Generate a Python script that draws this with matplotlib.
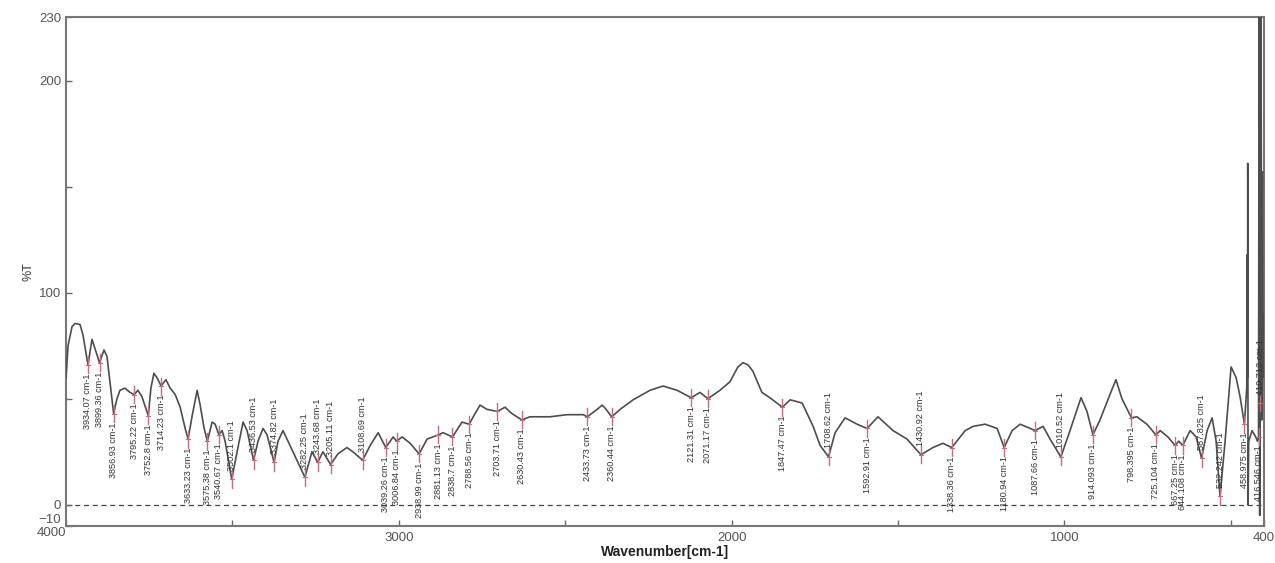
"""
IR transmission spectrum with labelled absorption peaks.
"""

import numpy as np
import matplotlib.pyplot as plt
from matplotlib.ticker import FixedLocator

# Spectrum trace (wavenumber in cm-1, %T)
wavenumber = [
    4000, 3994, 3982, 3973, 3958, 3949, 3934.07, 3922, 3899.36, 3886, 3877,
    3856.93, 3847, 3838, 3823, 3808, 3795.22, 3784, 3772, 3752.8, 3745, 3736,
    3727, 3714.23, 3700, 3687, 3672, 3657, 3642, 3633.23, 3621, 3606, 3597,
    3585, 3575.38, 3561, 3552, 3540.67, 3531, 3522, 3502.1, 3486, 3468, 3456,
    3436.53, 3423, 3408, 3396, 3374.82, 3363, 3348, 3327, 3303, 3282.25, 3261,
    3243.68, 3228, 3205.11, 3183, 3156, 3138, 3108.69, 3086, 3062, 3039.26,
    3017, 3006.84, 2990, 2966, 2938.99, 2915, 2881.13, 2867, 2838.7, 2810,
    2788.56, 2771, 2756, 2735, 2703.71, 2681, 2660, 2630.43, 2606, 2546, 2494,
    2446, 2433.73, 2404, 2389, 2377, 2360.44, 2335, 2296, 2245, 2206, 2164,
    2121.31, 2095, 2071.17, 2035, 2005, 1981, 1966, 1951, 1936, 1909, 1885,
    1847.47, 1824, 1788, 1755, 1734, 1708.62, 1689, 1659, 1623, 1592.91, 1560,
    1515, 1473, 1430.92, 1395, 1365, 1338.36, 1298, 1274, 1238, 1202, 1180.94,
    1157, 1133, 1087.66, 1064, 1043, 1010.52, 983, 950, 932, 914.093, 893, 863,
    845, 827, 798.395, 782, 752, 725.104, 712, 689, 667.25, 656, 644.108, 622,
    604, 587.825, 571, 556, 544, 532.242, 517, 499, 484, 472, 458.975, 452,
    450, 449.5, 449, 448, 446, 436, 425, 420, 416.546, 415, 413, 411, 410.712,
    409, 407, 405, 403, 401, 400,
]
transmittance = [
    60, 75, 84, 85.5, 85, 80, 66, 78, 67, 73, 70,
    43, 50, 54, 55, 53, 52, 54, 51, 42, 55, 62,
    60, 56, 59, 55, 52, 46, 36, 31, 42, 54, 47,
    36, 30, 39, 38, 33, 35, 30, 12, 25, 39, 35,
    21, 30, 36, 33, 20, 30, 35, 28, 20, 13, 25,
    20, 25, 19, 24, 27, 25, 21, 28, 34, 27,
    32, 30, 32, 29, 24, 31, 33, 34, 32, 39,
    38, 43, 47, 45, 44, 46, 43, 40, 41.5, 41.5, 42.5,
    42.5, 41.5, 45, 47, 45, 41.5, 45, 49.5, 54, 56, 54,
    50.5, 53, 50, 54, 58, 65, 67, 66, 63, 53, 50.5,
    46, 49.5, 48, 37, 28, 22.6, 34, 41, 38, 36, 41.5,
    35, 31, 23.6, 27, 29, 27, 35, 37, 38, 36, 27,
    35, 38, 35, 37, 31, 22.6, 35, 50.5, 44, 33, 40, 52,
    59, 50, 41, 41.5, 38, 33, 35, 32, 28, 30, 28, 35,
    32, 22, 35, 41, 30, 4, 30, 65, 60, 51, 38, 55,
    118, 60, 161, 0, 30, 35, 32, 30, 32, 230, -5, 158, 48,
    230, 40, 157, 60, 90, 88,
]

# Picked peaks and whether the label sits above the trace
peak_wn = [
    3934.07, 3899.36, 3856.93, 3795.22, 3752.8, 3714.23, 3633.23, 3575.38,
    3540.67, 3502.1, 3436.53, 3374.82, 3282.25, 3243.68, 3205.11, 3108.69,
    3039.26, 3006.84, 2938.99, 2881.13, 2838.7, 2788.56, 2703.71, 2630.43,
    2433.73, 2360.44, 2121.31, 2071.17, 1847.47, 1708.62, 1592.91, 1430.92,
    1338.36, 1180.94, 1087.66, 1010.52, 914.093, 798.395, 725.104, 667.25,
    644.108, 587.825, 532.242, 458.975, 416.546, 410.712,
]
labels_above = {3502.1, 3436.53, 3374.82, 3282.25, 3243.68, 3205.11, 3108.69,
                1708.62, 1430.92, 1010.52, 587.825, 532.242, 410.712}

x_ticks = [4000, 3000, 2000, 1000, 400]
y_ticks = [-10, 0, 100, 200, 230]

wn = np.array(wavenumber)
tr = np.array(transmittance)

plt.rcParams["font.family"] = ["Liberation Sans", "DejaVu Sans"]

fig = plt.figure(figsize=(12.75, 5.63), dpi=100)
ax = fig.add_axes([0.0518, 0.0657, 0.9396, 0.9041])

ax.plot(wn, tr, color="#4d4d4d", lw=1.2, zorder=3)
ax.axhline(0, color="#444444", lw=0.9, ls=(0, (4, 3)), zorder=1)

# peak markers and labels
order = np.argsort(wn)
for p in peak_wn:
    yp = np.interp(p, wn[order], tr[order])
    ax.plot([p, p], [yp - 4, yp + 4], color="#c07080", lw=1.0, zorder=4)
    ax.plot([p - 6, p + 6], [yp, yp], color="#c07080", lw=0.8, zorder=4)
    txt = f"{p:g} cm-1"
    if p in labels_above:
        ax.text(p, yp + 4, txt, rotation=90, ha="center", va="bottom",
                fontsize=6.6, color="#333333", zorder=5)
    else:
        ax.text(p, yp - 4, txt, rotation=90, ha="center", va="top",
                fontsize=6.6, color="#333333", zorder=5)

ax.set_xlim(4000, 400)
ax.set_ylim(-10, 230)

ax.xaxis.set_major_locator(FixedLocator(x_ticks))
ax.xaxis.set_minor_locator(FixedLocator([3500, 2500, 1500, 500]))
ax.yaxis.set_major_locator(FixedLocator(y_ticks))
ax.yaxis.set_minor_locator(FixedLocator([50, 150]))
ax.set_xticklabels([""] + [str(t) for t in x_ticks[1:]])
ax.tick_params(which="both", direction="in", length=4, width=1,
               color="#666666", labelcolor="#555555", labelsize=9.5)
ax.tick_params(axis="x", pad=4)

# bottom y label is lifted so it clears the corner label
ax.get_yticklabels()[0].set_va("bottom")

# the 4000 label sits at the lower-left corner
ax.annotate(str(x_ticks[0]), xy=(x_ticks[0], 0), xycoords=("data", "axes fraction"),
            xytext=(0, -1), textcoords="offset points", ha="right", va="top",
            fontsize=9.5, color="#555555", annotation_clip=False)

for s in ax.spines.values():
    s.set_color("#777777")
    s.set_linewidth(1.5)

ax.set_xlabel("Wavenumber[cm-1]", fontsize=10, fontweight="bold", color="#222222", labelpad=1)
ax.set_ylabel("%T", fontsize=9, color="#333333", labelpad=3)

fig.savefig("out.png", dpi=100)
